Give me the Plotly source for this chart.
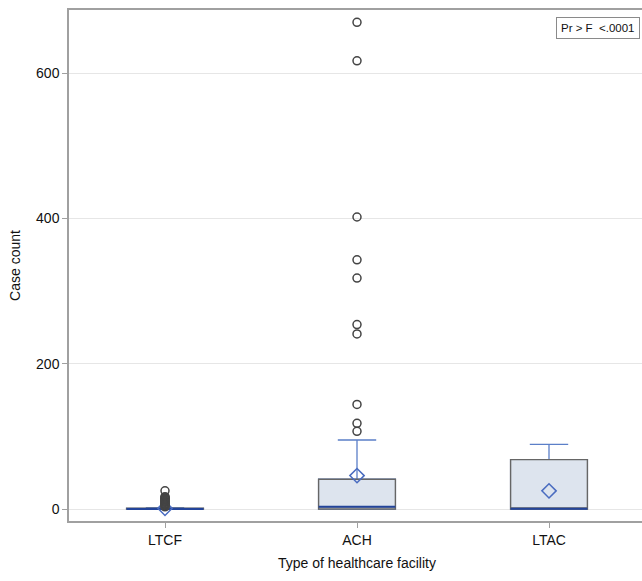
import plotly.graph_objects as go

categories = ["LTCF", "ACH", "LTAC"]
q1 = [0, 0, 0]
median = [0, 3, 0.5]
q3 = [1, 41, 68]
lowerfence = [0, 0, 0]
upperfence = [2, 95, 89]
means = [1, 46, 25]
outliers = {
    "LTCF": [25, 17, 16, 15, 14, 13, 12, 11, 10, 9, 8, 7, 6, 5, 4, 3],
    "ACH": [670, 617, 402, 343, 318, 254, 241, 144, 118, 107],
    "LTAC": [],
}
stat_text = "Pr > F  <.0001"
y_ticks = [0, 200, 400, 600]

pos = list(range(len(categories)))
box_w = 0.4
font_fam = "Liberation Sans, Arial, sans-serif"

fig = go.Figure()
# whiskers layer (blue)
fig.add_trace(go.Box(
    x=pos, q1=q1, median=median, q3=q3, lowerfence=lowerfence, upperfence=upperfence,
    width=box_w, whiskerwidth=0.5, line=dict(color="#5b7fc8", width=1.3),
    fillcolor="rgba(0,0,0,0)", boxpoints=False, showlegend=False, hoverinfo="skip"))
# box outline layer (gray)
fig.add_trace(go.Box(
    x=pos, q1=q1, median=median, q3=q3, lowerfence=q1, upperfence=q3,
    width=box_w, whiskerwidth=0, line=dict(color="#666666", width=1.4),
    fillcolor="#dde4ee", boxpoints=False, showlegend=False))
# median lines
for i, m in enumerate(median):
    fig.add_trace(go.Scatter(
        x=[pos[i] - box_w / 2, pos[i] + box_w / 2], y=[m, m], mode="lines",
        line=dict(color="#23449a", width=2), showlegend=False, hoverinfo="skip"))
# means
fig.add_trace(go.Scatter(
    x=pos, y=means, mode="markers",
    marker=dict(symbol="diamond-open", size=11, color="#4a6cc0", line=dict(width=1.5)),
    showlegend=False))
# outliers
ox, oy = [], []
for i, c in enumerate(categories):
    for v in outliers[c]:
        ox.append(pos[i])
        oy.append(v)
fig.add_trace(go.Scatter(
    x=ox, y=oy, mode="markers",
    marker=dict(symbol="circle-open", size=8, color="#444444", line=dict(width=1.5)),
    showlegend=False))

fig.add_annotation(
    text=stat_text, xref="paper", yref="paper", x=0.992, y=0.986,
    xanchor="right", yanchor="top", showarrow=False,
    font=dict(family=font_fam, size=11.5, color="#111"),
    bordercolor="#8a8a8a", borderwidth=1, borderpad=4, bgcolor="white")

fig.update_layout(
    width=645, height=581,
    margin=dict(l=69, r=0, t=10, b=60),
    paper_bgcolor="white", plot_bgcolor="white",
    boxmode="overlay",
    font=dict(family=font_fam, size=14, color="#111"),
    xaxis=dict(
        range=[-0.5, 2.5], tickvals=pos, ticktext=categories, showgrid=False, zeroline=False,
        showline=True, linecolor="#a0a0a0", linewidth=1.5, mirror=True,
        ticks="outside", ticklen=5, tickcolor="#a0a0a0",
        title=dict(text="Type of healthcare facility", font=dict(size=14), standoff=12),
        tickfont=dict(size=14)),
    yaxis=dict(
        range=[-16.5, 687], tickvals=y_ticks, showgrid=True, gridcolor="#e6e6e6", gridwidth=1,
        zeroline=False, showline=True, linecolor="#a0a0a0", linewidth=1.5,
        ticks="outside", ticklen=5, tickcolor="#a0a0a0",
        title=dict(text="Case count", font=dict(size=14), standoff=12),
        tickfont=dict(size=14)),
)

fig.write_html("out.html", config={"displayModeBar": False},
               post_script="document.body.style.margin='0';document.body.style.overflow='hidden';")
